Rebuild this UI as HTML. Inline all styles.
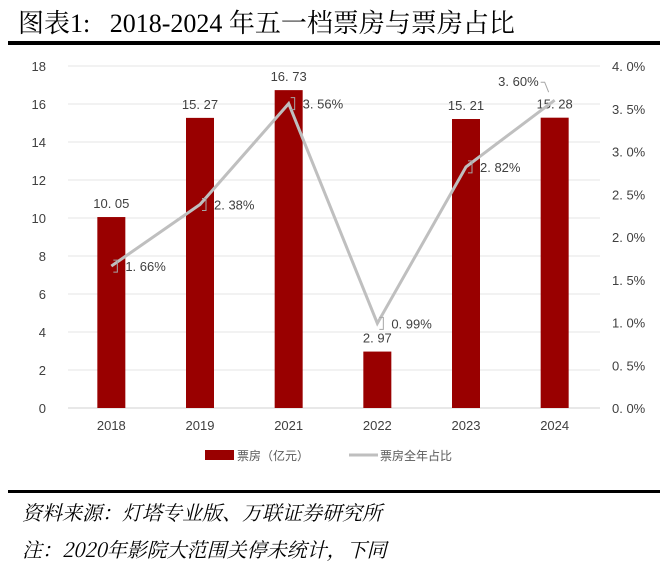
<!DOCTYPE html>
<html><head><meta charset="utf-8"><style>
body{margin:0;width:660px;height:569px;background:#fff;overflow:hidden;position:relative;font-family:"Liberation Sans","Noto Sans CJK SC",sans-serif}
.t{position:absolute;white-space:nowrap}
</style></head><body>
<div class="t" style="left:18px;top:3px;font-size:26px;font-family:'Liberation Serif','Noto Serif CJK SC',serif;color:#000">图表1:&nbsp;&nbsp;&nbsp;2018-2024 年五一档票房与票房占比</div>
<div style="position:absolute;left:8px;top:41px;width:652px;height:4px;background:#000"></div>
<svg id="c" width="660" height="490" style="position:absolute;left:0;top:0" font-family="Liberation Sans, Noto Sans CJK SC, sans-serif"></svg>
<div style="position:absolute;left:8px;top:490px;width:652px;height:3px;background:#000"></div>
<div class="t" style="left:22px;top:497px;font-size:20px;font-style:italic;font-family:'Noto Serif CJK SC',serif">资料来源：灯塔专业版、万联证券研究所</div>
<div class="t" style="left:22px;top:534px;font-size:20px;font-style:italic;font-family:'Noto Serif CJK SC',serif">注：2020年影院大范围关停未统计，下同</div>
<script>
const categories=["2018","2019","2021","2022","2023","2024"];
const boxOffice=[10.05,15.27,16.73,2.97,15.21,15.28];
const share=[1.66,2.38,3.56,0.99,2.82,3.60];
const leftTicks=[0,2,4,6,8,10,12,14,16,18];
const rightTicks=[0,0.5,1,1.5,2,2.5,3,3.5,4];
const NS="http://www.w3.org/2000/svg",svg=document.getElementById('c');
const x0=68,x1=600,yT=66,yB=408;
const yL=v=>yB-(v/18)*(yB-yT);
const yR=v=>yB-(v/4)*(yB-yT);
const band=(x1-x0)/categories.length;
const xC=i=>x0+band*(i+0.5)-1;
function mk(t,a,txt){const e=document.createElementNS(NS,t);for(const k in a)e.setAttribute(k,a[k]);if(txt!=null)e.textContent=txt;svg.appendChild(e);return e;}
leftTicks.forEach(v=>{
 const g=mk('line',{x1:x0,x2:x1,y1:yL(v),y2:yL(v),stroke:v===0?'#d0d0d0':'#e4e4e4','stroke-width':1});
 
 
 const t=mk('text',{x:46,y:yL(v)+5,'text-anchor':'end','font-size':13,fill:'#404040'},String(v));
 
 
});
rightTicks.forEach(v=>{
 const t=mk('text',{x:612,y:yR(v)+5,'font-size':13,fill:'#404040'},v.toFixed(1).replace('.','. ')+'%');
 
 
});
categories.forEach((c,i)=>{
 const bw=28,x=xC(i);
 const r=mk('rect',{x:x-bw/2,y:yL(boxOffice[i]),width:bw,height:yB-yL(boxOffice[i]),fill:'#990000'});
 
 
 const l=mk('text',{x:x,y:yL(boxOffice[i])-9,'text-anchor':'middle','font-size':13,fill:'#404040'},boxOffice[i].toFixed(2).replace('.','. '));
 
 
 const t=mk('text',{x:x,y:430,'text-anchor':'middle','font-size':13,fill:'#404040'},c);
 
 
});
const pts=share.map((v,i)=>xC(i)+','+yR(v)).join(' ');
const pl=mk('polyline',{points:pts,fill:'none',stroke:'#bfbfbf','stroke-width':3});


share.forEach((v,i)=>{
 const x=xC(i),y=yR(v),last=i===share.length-1;
 const tx=last?x-16:x+14, ty=last?y-14:y+5;
 const ld=mk('polyline',{points:last?`${x-6},${y-8} ${x-10},${y-18} ${x-14},${y-18}`:`${x+2},${y-6} ${x+6},${y-6} ${x+6},${y+6} ${x+2},${y+6}`,fill:'none',stroke:'#a6a6a6','stroke-width':1});
 
 
 const t=mk('text',{x:tx,y:ty,'text-anchor':last?'end':'start','font-size':13,fill:'#404040'},v.toFixed(2).replace('.','. ')+'%');
 
 
});
const lr=mk('rect',{x:205,y:450,width:29,height:10,fill:'#990000'});


const lt=mk('text',{x:237,y:460,'font-size':12,fill:'#595959'},'票房（亿元）');


const ll=mk('line',{x1:349,x2:378,y1:455,y2:455,stroke:'#bfbfbf','stroke-width':3});


const lt2=mk('text',{x:380,y:460,'font-size':12,fill:'#595959'},'票房全年占比');


</script>
</body></html>
